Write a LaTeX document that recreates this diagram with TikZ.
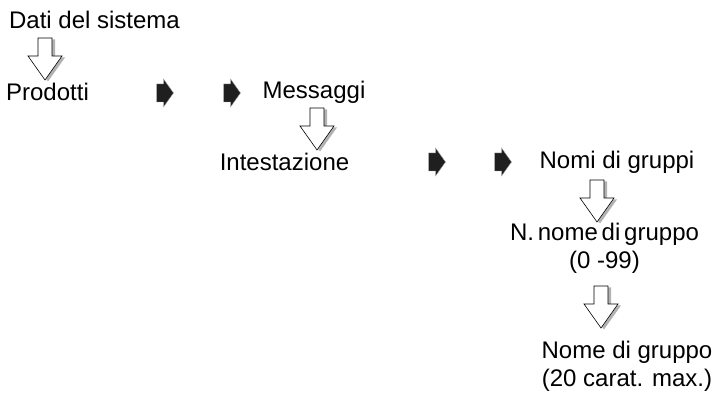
\documentclass[tikz,border=0pt]{standalone}
\usepackage{fontspec}
\setmainfont{Liberation Sans}
\tikzset{
  lbl/.style={inner sep=0pt, font=\fontsize{24}{28}\selectfont, align=center},
  pics/hollowarrow/.style={code={
    \fill[gray!60] (-7+3,-1.5) -- (7+3,-1.5) -- (7+3,-19.5) -- (17+3,-19.5) -- (0+3,-43.5) -- (-17+3,-19.5) -- (-7+3,-19.5) -- cycle;
    \filldraw[fill=white, draw=black, line width=0.6pt, line join=miter] (-7,0) -- (7,0) -- (7,-18) -- (17,-18) -- (0,-42) -- (-17,-18) -- (-7,-18) -- cycle;
  }},
  pics/blackarrow/.style={code={
    \filldraw[fill=black!88, draw=gray!70, line width=0.4pt] (-8.5,-9) -- (-1.5,-9) -- (-1.5,-14) -- (8.5,0) -- (-1.5,14) -- (-1.5,9) -- (-8.5,9) -- cycle;
  }}
}
\newcommand{\tsp}{\hspace{0.16em}}
\begin{document}
\begin{tikzpicture}[x=1pt,y=1pt]
\useasboundingbox (0,0) rectangle (717,414);
\node[lbl] (dati) at (94.5,394) {Dati del sistema};
\node[lbl] (prod) at (47.5,322) {Prodotti};
\node[lbl] (mess) at (314,322) {Messaggi};
\node[lbl] (inte) at (284.5,252) {Intestazione};
\node[lbl] (nomi) at (617,252) {Nomi di gruppi};
\node[lbl] (ngr) at (604.5,165.5) {N.\tsp nome\tsp di\tsp gruppo\\(0 -99)};
\node[lbl] (nome) at (627,48) {Nome di gruppo\\(20 carat. max.)};
\pic at (45,376) {hollowarrow};
\pic at (317,306) {hollowarrow};
\pic at (597,234) {hollowarrow};
\pic at (601,128) {hollowarrow};
\pic at (165,321) {blackarrow};
\pic at (232,321) {blackarrow};
\pic at (437,252) {blackarrow};
\pic at (503,252) {blackarrow};
\end{tikzpicture}
\end{document}
